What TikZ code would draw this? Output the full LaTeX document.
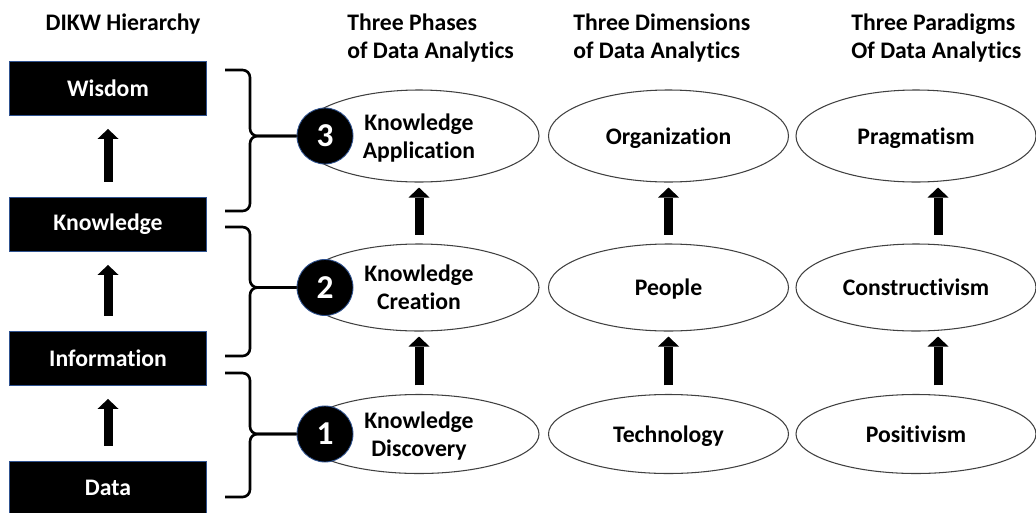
\documentclass[tikz,border=0pt]{standalone}
\usepackage{fontspec}
\setmainfont{Carlito}[Ligatures=NoCommon]
\usetikzlibrary{shapes.geometric,arrows.meta}
\definecolor{edgeblue}{RGB}{47,82,143}

\begin{document}
\begin{tikzpicture}[
    font=\fontsize{13.5}{16}\selectfont\bfseries,
    level/.style={rectangle, fill=black, draw=edgeblue, line width=0.5pt, text=white, minimum width=3.94cm, minimum height=1.08cm, inner sep=0pt},
    phase/.style={ellipse, draw=black!75, line width=0.6pt, minimum width=4.8cm, inner sep=0pt, text depth=0pt, align=center},
    num/.style={circle, fill=black, draw=edgeblue, line width=0.5pt, text=white, minimum size=1.12cm, inner sep=0pt, font=\fontsize{19}{19}\selectfont\bfseries},
    up/.style={line width=0.18cm, -{Triangle[length=0.2cm, width=0.42cm, line width=0pt]}, shorten >=0.27cm, shorten <=0.3cm},
    rise/.style={up, shorten >=0.1cm, shorten <=0.17cm},
    bracket/.style={line width=1.5pt, rounded corners=0.15cm},
    header/.style={anchor=north west, align=left, inner sep=0pt}
  ]
  \useasboundingbox (0,0) rectangle (20.72,-10.24);

  % column titles
  \node[anchor=base] (h0) at (2.46,-0.6) {DIKW Hierarchy};
  \node[header] (h1) at (6.94,-0.27) {Three Phases\\of Data Analytics};
  \node[header] (h2) at (11.46,-0.27) {Three Dimensions\\of Data Analytics};
  \node[header] (h3) at (17.02,-0.27) {Three Paradigms\\Of Data Analytics};

  % DIKW hierarchy
  \node[level] (W) at (2.16,-1.76) {Wisdom};
  \node[level] (K) at (2.16,-4.48) {Knowledge};
  \node[level] (I) at (2.16,-7.16) {Information};
  \node[level] (D) at (2.16,-9.76) {Data};

  \draw[up] (K) -- (W);
  \draw[up] (I) -- (K);
  \draw[up] (D) -- (I);

  % phases
  \node[phase, minimum height=1.84cm] (KA) at (8.38,-2.72) {Knowledge\\Application};
  \node[phase, minimum height=1.74cm] (KC) at (8.38,-5.75) {Knowledge\\Creation};
  \node[phase, minimum height=1.58cm] (KD) at (8.38,-8.68) {Knowledge\\Discovery};

  % dimensions
  \node[phase, minimum height=1.84cm] (O) at (13.37,-2.72) {Organization};
  \node[phase, minimum height=1.74cm] (P) at (13.37,-5.75) {People};
  \node[phase, minimum height=1.58cm] (T) at (13.37,-8.68) {Technology};

  % paradigms
  \node[phase, minimum height=1.84cm] (Pr) at (18.32,-2.72) {Pragmatism};
  \node[phase, minimum height=1.74cm] (C) at (18.32,-5.75) {Constructivism};
  \node[phase, minimum height=1.58cm] (Po) at (18.32,-8.68) {Positivism};

  \draw[rise] (KC) -- (KA);
  \draw[rise] (KD) -- (KC);
  \draw[rise] (P) -- (O);
  \draw[rise] (T) -- (P);
  \draw[rise] ([xshift=0.44cm]C.north) -- ([xshift=0.44cm]Pr.south);
  \draw[rise] ([xshift=0.44cm]Po.north) -- ([xshift=0.44cm]C.south);

  % numbered phases
  \node[num] (n3) at (6.5,-2.72) {3};
  \node[num] (n2) at (6.5,-5.75) {2};
  \node[num] (n1) at (6.5,-8.68) {1};

  % braces
  \draw[bracket] (4.5,-1.4) -| (5.0,-2.72) -- (n3);
  \draw[bracket] (4.5,-4.22) -| (5.0,-2.72) -- (n3);
  \draw[bracket] (4.5,-4.54) -| (5.0,-5.75) -- (n2);
  \draw[bracket] (4.5,-7.12) -| (5.0,-5.75) -- (n2);
  \draw[bracket] (4.5,-7.46) -| (5.0,-8.68) -- (n1);
  \draw[bracket] (4.5,-9.94) -| (5.0,-8.68) -- (n1);
\end{tikzpicture}
\end{document}
